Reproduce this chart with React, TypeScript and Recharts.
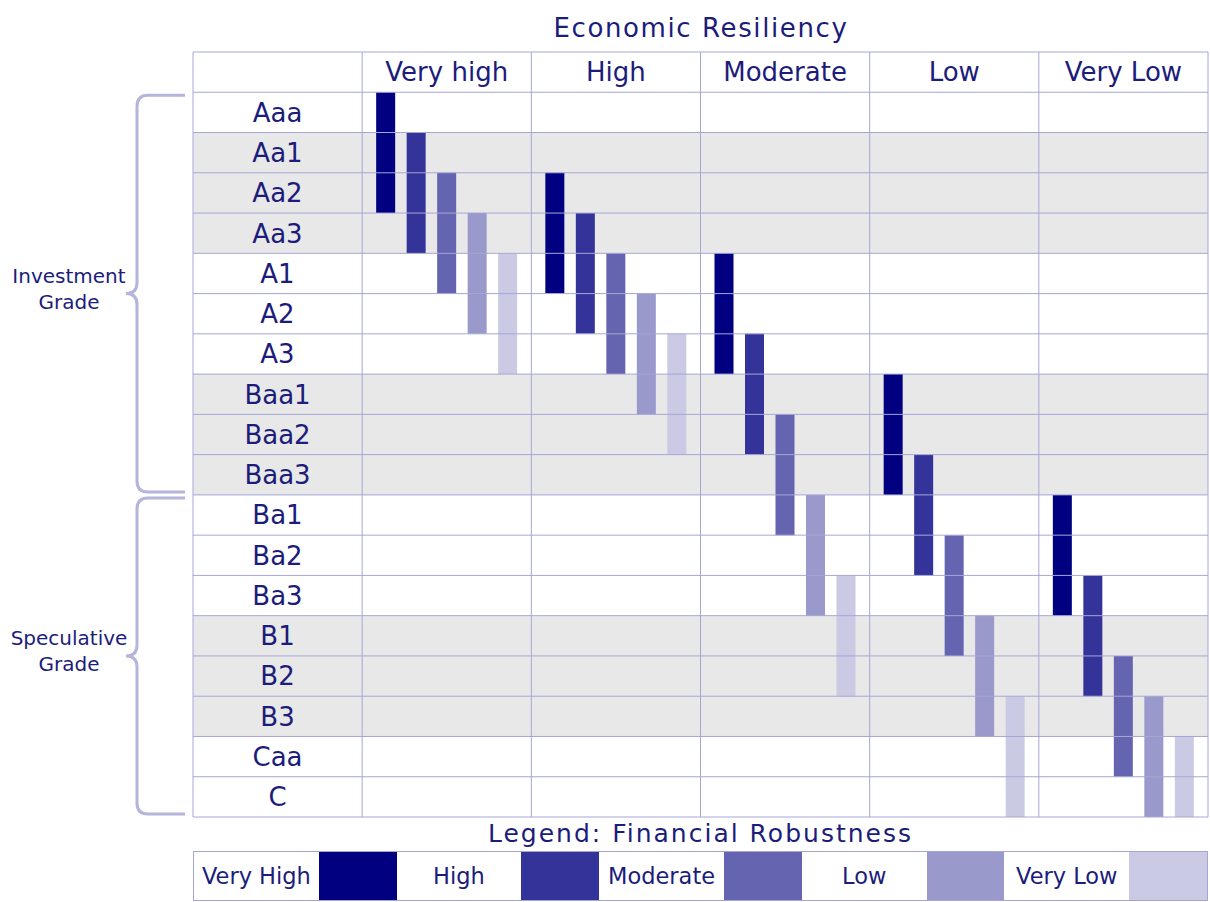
import React from "react";
import {
  ComposedChart,
  Bar,
  XAxis,
  YAxis,
  ReferenceArea,
  ReferenceLine,
  Legend,
} from "recharts";

const ratings = [
  "Aaa", "Aa1", "Aa2", "Aa3", "A1", "A2", "A3", "Baa1", "Baa2",
  "Baa3", "Ba1", "Ba2", "Ba3", "B1", "B2", "B3", "Caa", "C",
];
const resiliency = ["Very high", "High", "Moderate", "Low", "Very Low"];
const robustness = ["Very High", "High", "Moderate", "Low", "Very Low"];
const robustnessKeys = ["veryHigh", "high", "moderate", "low", "veryLow"];
const robustnessColors = ["#000080", "#333399", "#6464b0", "#9999cb", "#cacae4"];

// first and last rating covered, one pair per resiliency column
const veryHighSpan = [["Aaa", "Aa2"], ["Aa2", "A1"], ["A1", "A3"], ["Baa1", "Baa3"], ["Ba1", "Ba3"]];
const highSpan = [["Aa1", "Aa3"], ["Aa3", "A2"], ["A3", "Baa2"], ["Baa3", "Ba2"], ["Ba3", "B2"]];
const moderateSpan = [["Aa2", "A1"], ["A1", "A3"], ["Baa2", "Ba1"], ["Ba2", "B1"], ["B2", "Caa"]];
const lowSpan = [["Aa3", "A2"], ["A2", "Baa1"], ["Ba1", "Ba3"], ["B1", "B3"], ["B3", "C"]];
const veryLowSpan = [["A1", "A3"], ["A3", "Baa2"], ["Ba3", "B2"], ["B3", "C"], ["Caa", "C"]];

const shadedRows = [["Aa1", "Aa3"], ["Baa1", "Baa3"], ["B1", "B3"]];
const gradeNames = ["Investment Grade", "Speculative Grade"];
const gradeSpans = [["Aaa", "Baa3"], ["Ba1", "C"]];

const FONT = "'DejaVu Sans', Verdana, sans-serif";
const INK = "#1c1c7a";
const LINE = "#a6a6d6";
const LABEL_COL = "rating";

const span = ([from, to]: string[]) => [ratings.indexOf(from), ratings.indexOf(to) + 1];

const spans = [veryHighSpan, highSpan, moderateSpan, lowSpan, veryLowSpan];
const chartData = [
  { group: LABEL_COL },
  ...resiliency.map((group, i) => {
    const row: any = { group };
    robustnessKeys.forEach((k, j) => {
      row[k] = span(spans[j][i]);
    });
    return row;
  }),
];
const categories = chartData.map((d) => d.group);

const RatingTick = (props: any) => {
  const { x, y, payload } = props;
  return (
    <text x={x + 84.5} y={y} dy="0.36em" textAnchor="middle" fontFamily={FONT} fontSize={26} fill={INK}>
      {ratings[Math.floor(payload.value)]}
    </text>
  );
};

const ResiliencyTick = (props: any) => {
  const { x, y, payload } = props;
  if (payload.value === LABEL_COL) return null;
  return (
    <text x={x} y={y + 20} dy="0.36em" textAnchor="middle" fontFamily={FONT} fontSize={26} fill={INK}>
      {payload.value}
    </text>
  );
};

const Brace = (props: any) => {
  const { x, y, height, name } = props;
  const top = y + 3;
  const bottom = y + height - 3;
  const mid = (top + bottom) / 2;
  const xr = x - 8;
  const xv = x - 56;
  const xc = x - 67;
  const r = 11;
  const d = `M${xr},${top} L${xv + r},${top} Q${xv},${top} ${xv},${top + r} L${xv},${mid - r} Q${xv},${mid} ${xc},${mid} Q${xv},${mid} ${xv},${mid + r} L${xv},${bottom - r} Q${xv},${bottom} ${xv + r},${bottom} L${xr},${bottom}`;
  const words = String(name).split(" ");
  return (
    <g>
      <path d={d} fill="none" stroke="#b4b4dc" strokeWidth={3} />
      {words.map((w, i) => (
        <text
          key={w}
          x={x - 124}
          y={mid - 18 + i * 26}
          dy="0.36em"
          textAnchor="middle"
          fontFamily={FONT}
          fontSize={20}
          fill={INK}
        >
          {w}
        </text>
      ))}
    </g>
  );
};

const LegendTable = (props: any) => {
  const items = [...(props.payload || [])].sort(
    (a: any, b: any) => robustness.indexOf(a.value) - robustness.indexOf(b.value)
  );
  return (
    <div style={{ width: 1015, marginLeft: 193, fontFamily: FONT, color: INK }}>
      <div style={{ height: 34, lineHeight: "34px", textAlign: "center", fontSize: 25, letterSpacing: 2 }}>
        Legend: Financial Robustness
      </div>
      <div style={{ display: "flex", height: 50, border: `1px solid ${LINE}`, boxSizing: "border-box" }}>
        {items.map((item: any) => (
          <React.Fragment key={item.value}>
            <div style={{ width: 125, lineHeight: "48px", textAlign: "center", fontSize: 22.5, background: "#fff" }}>
              {item.value}
            </div>
            <div style={{ width: 78, background: item.color }} />
          </React.Fragment>
        ))}
      </div>
    </div>
  );
};

export default function App() {
  return (
    <div style={{ position: "absolute", left: 0, top: 0, width: 1210, height: 902, background: "#fff" }}>
      <ComposedChart
        width={1210}
        height={902}
        data={chartData}
        margin={{ top: 52, right: 2, bottom: 0, left: 193 }}
        barSize={19}
        barGap={11.5}
      >
        <XAxis
          dataKey="group"
          orientation="top"
          mirror
          interval={0}
          axisLine={false}
          tickLine={false}
          tickSize={0}
          tickMargin={0}
          tick={<ResiliencyTick />}
        />
        <YAxis
          type="number"
          domain={[-1, ratings.length]}
          reversed
          mirror
          ticks={ratings.map((_, i) => i + 0.5)}
          interval={0}
          axisLine={false}
          tickLine={false}
          tickSize={0}
          tickMargin={0}
          tick={<RatingTick />}
        />
        {shadedRows.map((s) => {
          const [a, b] = span(s);
          return <ReferenceArea key={s[0]} y1={a} y2={b} fill="#e8e8e8" fillOpacity={1} stroke="none" />;
        })}
        {Array.from({ length: ratings.length + 2 }, (_, i) => i - 1).map((v) => (
          <ReferenceLine key={`h${v}`} y={v} stroke={LINE} strokeWidth={1} ifOverflow="visible" />
        ))}
        {categories.map((c) => (
          <ReferenceLine key={`v${c}`} x={c} position="start" stroke={LINE} strokeWidth={1} ifOverflow="visible" />
        ))}
        <ReferenceLine x={categories[categories.length - 1]} position="end" stroke={LINE} strokeWidth={1} ifOverflow="visible" />
        {gradeNames.map((name, i) => {
          const [a, b] = span(gradeSpans[i]);
          return (
            <ReferenceArea
              key={name}
              y1={a}
              y2={b}
              ifOverflow="visible"
              shape={(p: any) => <Brace {...p} name={name} />}
            />
          );
        })}
        {robustnessKeys.map((k, j) => (
          <Bar
            key={k}
            dataKey={k}
            name={robustness[j]}
            fill={robustnessColors[j]}
            isAnimationActive={false}
          />
        ))}
        <Legend
          verticalAlign="bottom"
          content={<LegendTable />}
          wrapperStyle={{ left: 0, bottom: 0, width: 1210, height: 85 }}
        />
        <text x={701} y={37} textAnchor="middle" fontFamily={FONT} fontSize={26} letterSpacing={1.6} fill={INK}>
          Economic Resiliency
        </text>
      </ComposedChart>
    </div>
  );
}
